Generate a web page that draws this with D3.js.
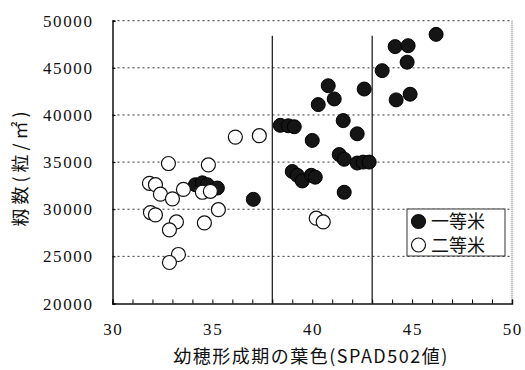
<!DOCTYPE html>
<html>
<head>
<meta charset="utf-8">
<script src="https://cdn.jsdelivr.net/npm/d3@7"></script>
<style>
body { margin: 0; background: #fff; }
</style>
</head>
<body>
<div class="chart"></div>
<script>
// 一等米
var firstX = [34.15, 34.5, 34.75, 35.25, 37.05, 38.4, 38.8, 39.1, 39.0, 39.25, 39.5, 39.95, 40.15,
              40.0, 40.3, 40.8, 41.1, 41.35, 41.6, 41.55, 41.6, 42.25, 42.25, 42.55, 42.85, 42.6,
              43.5, 44.15, 44.8, 44.75, 44.2, 44.9, 46.2];
var firstY = [32600, 32800, 32600, 32250, 31050, 38900, 38850, 38750, 34000, 33600, 33000, 33600, 33400,
              37300, 41100, 43100, 41700, 35800, 35300, 39400, 31800, 38000, 34900, 35000, 35000, 42750,
              44700, 47250, 47350, 45600, 41600, 42200, 48550];
// 二等米
var secondX = [32.8, 34.8, 36.15, 37.35, 31.85, 32.15, 32.4, 33.0, 33.55, 34.5, 34.9, 35.3, 31.9,
               32.15, 33.2, 32.85, 34.6, 33.3, 32.85, 40.2, 40.55];
var secondY = [34850, 34700, 37650, 37800, 32750, 32600, 31600, 31100, 32100, 31800, 31900, 29950, 29650,
               29400, 28650, 27800, 28550, 25200, 24350, 29050, 28650];

var xTicks = [30, 35, 40, 45, 50];
var yTicks = [20000, 25000, 30000, 35000, 40000, 45000, 50000];
var splitLines = [38, 43];
var legendNames = ['一等米', '二等米'];

var W = 525, H = 370;
var plotLeft = 112.5, plotRight = 512, plotTop = 20.7, plotBottom = 303.5;
var numFont = '"Liberation Serif", "DejaVu Serif", serif';
var cjkFont = '"Noto Sans CJK JP", sans-serif';

var x = d3.scaleLinear().domain([30, 50]).range([plotLeft, plotRight]);
var y = d3.scaleLinear().domain([20000, 50000]).range([plotBottom, plotTop]);

var svg = d3.select('div.chart').append('svg')
  .attr('width', W).attr('height', H);

// dotted grid lines
svg.append('g')
  .selectAll('line')
  .data(yTicks.slice(1))
  .enter().append('line')
  .attr('x1', plotLeft).attr('x2', plotRight)
  .attr('y1', function(d){ return y(d); })
  .attr('y2', function(d){ return y(d); })
  .attr('stroke', '#333')
  .attr('stroke-width', 1)
  .attr('stroke-dasharray', '2,3');

// right border dotted
svg.append('line')
  .attr('x1', plotRight).attr('x2', plotRight)
  .attr('y1', plotTop).attr('y2', plotBottom)
  .attr('stroke', '#555')
  .attr('stroke-dasharray', '1,1');

// vertical split lines
svg.append('g')
  .selectAll('line')
  .data(splitLines)
  .enter().append('line')
  .attr('x1', function(d){ return x(d); })
  .attr('x2', function(d){ return x(d); })
  .attr('y1', y(48400)).attr('y2', plotBottom)
  .attr('stroke', '#111')
  .attr('stroke-width', 1.2);

// axes
var xAxis = d3.axisTop(x).tickValues(d3.range(30, 51, 1)).tickSize(4).tickFormat('');
svg.append('g')
  .attr('transform', 'translate(0,' + plotBottom + ')')
  .call(xAxis)
  .call(function(g){ g.select('.domain').attr('stroke', '#111').attr('stroke-width', 1.5); });

var yAxis = d3.axisRight(y).tickValues(yTicks).tickSize(3).tickFormat('');
svg.append('g')
  .attr('transform', 'translate(' + plotLeft + ',0)')
  .call(yAxis)
  .call(function(g){ g.select('.domain').attr('stroke', '#111').attr('stroke-width', 1.5); });

// tick labels
svg.append('g')
  .selectAll('text')
  .data(yTicks)
  .enter().append('text')
  .attr('font-family', numFont)
  .attr('font-size', 17)
  .attr('letter-spacing', 1.6)
  .attr('fill', '#111')
  .attr('x', 93.5)
  .attr('y', function(d){ return y(d) + 6; })
  .attr('text-anchor', 'end')
  .text(function(d){ return d; });

svg.append('g')
  .selectAll('text')
  .data(xTicks)
  .enter().append('text')
  .attr('font-family', numFont)
  .attr('font-size', 17)
  .attr('letter-spacing', 1.6)
  .attr('fill', '#111')
  .attr('x', function(d){ return x(d) + 0.8; })
  .attr('y', 335)
  .attr('text-anchor', 'middle')
  .text(function(d){ return d; });

// titles
svg.append('text')
  .attr('font-family', cjkFont)
  .attr('fill', '#111')
  .attr('x', 311).attr('y', 363)
  .attr('text-anchor', 'middle')
  .attr('font-size', 18)
  .attr('letter-spacing', 1.5)
  .text('幼穂形成期の葉色(SPAD502値)');

svg.append('text')
  .attr('font-family', cjkFont)
  .attr('fill', '#111')
  .attr('transform', 'translate(27,167) rotate(-90)')
  .attr('text-anchor', 'middle')
  .attr('font-size', 18)
  .attr('letter-spacing', 4)
  .text('籾数(粒/㎡)');

// points
var r = 7;
var first = d3.zip(firstX, firstY);
var second = d3.zip(secondX, secondY);

svg.append('g')
  .selectAll('circle')
  .data(first)
  .enter().append('circle')
  .attr('cx', function(d){ return x(d[0]); })
  .attr('cy', function(d){ return y(d[1]); })
  .attr('r', r)
  .attr('fill', '#151515')
  .attr('stroke', '#000')
  .attr('stroke-width', 1);

svg.append('g')
  .selectAll('circle')
  .data(second)
  .enter().append('circle')
  .attr('cx', function(d){ return x(d[0]); })
  .attr('cy', function(d){ return y(d[1]); })
  .attr('r', r)
  .attr('fill', '#fff')
  .attr('stroke', '#111')
  .attr('stroke-width', 1.2);

// legend
var lg = svg.append('g');
lg.append('rect')
  .attr('x', 407).attr('y', 209)
  .attr('width', 98).attr('height', 47)
  .attr('fill', '#fff')
  .attr('stroke', '#333')
  .attr('stroke-width', 1);

var items = lg.selectAll('g.item')
  .data(legendNames)
  .enter().append('g')
  .attr('class', 'item')
  .attr('transform', function(d, i){ return 'translate(0,' + (221.5 + i * 23.5) + ')'; });

items.append('circle')
  .attr('cx', 418.5).attr('cy', 0).attr('r', r)
  .attr('fill', function(d, i){ return i === 0 ? '#151515' : '#fff'; })
  .attr('stroke', '#111')
  .attr('stroke-width', 1.2);

items.append('text')
  .attr('font-family', cjkFont)
  .attr('fill', '#111')
  .attr('x', 431).attr('y', 6.5)
  .attr('font-size', 18)
  .text(function(d){ return d; });
</script>
</body>
</html>
